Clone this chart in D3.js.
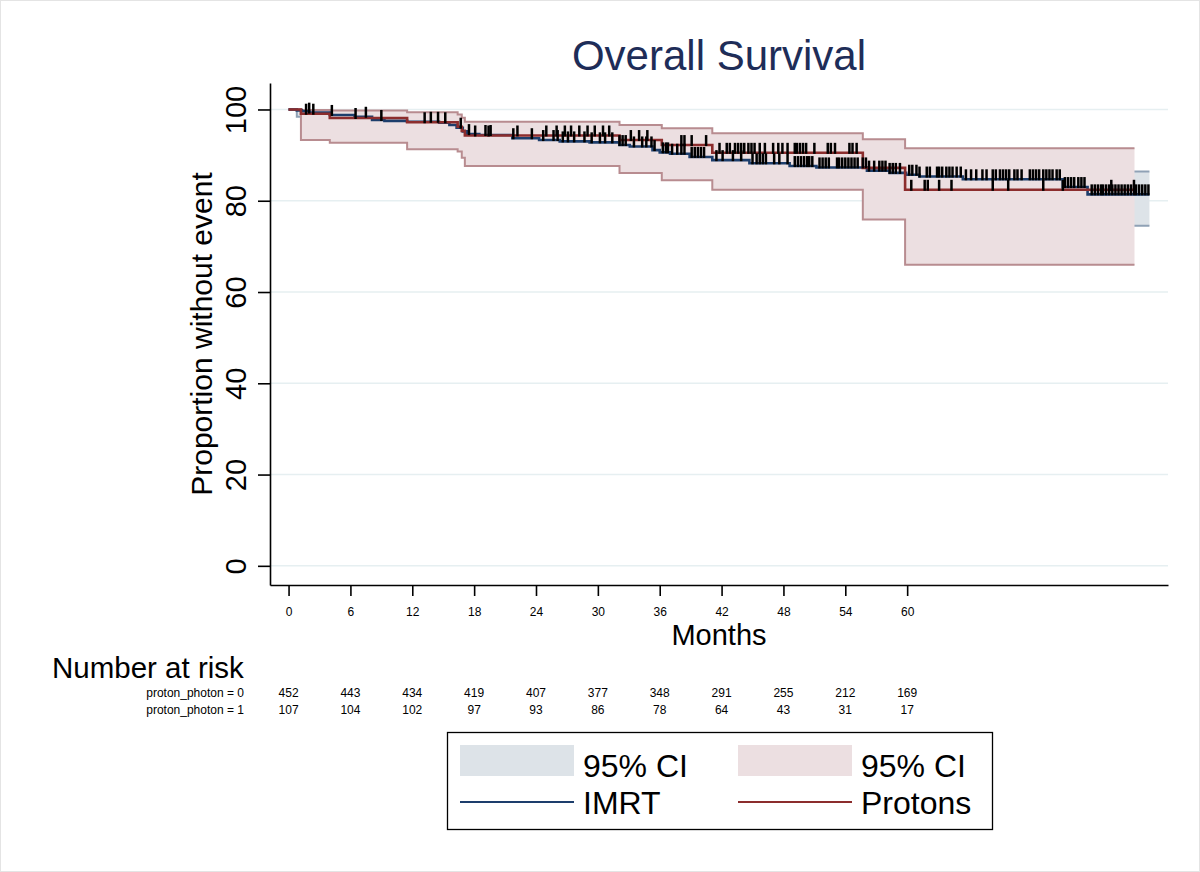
<!DOCTYPE html>
<html>
<head>
<meta charset="utf-8">
<script src="https://cdn.jsdelivr.net/npm/d3@7"></script>
<style>
  body { margin: 0; background: #fff; }
  svg { display: block; }
  text { font-family: "Liberation Sans", Arial, Helvetica, sans-serif; }
</style>
</head>
<body>
<svg id="chart"></svg>
<script>
// ---- data ----
const months = [0, 6, 12, 18, 24, 30, 36, 42, 48, 54, 60];
const yTicks = [0, 20, 40, 60, 80, 100];
const riskImrt = [452, 443, 434, 419, 407, 377, 348, 291, 255, 212, 169];
const riskProtons = [107, 104, 102, 97, 93, 86, 78, 64, 43, 31, 17];
const riskLabels = ["proton_photon = 0", "proton_photon = 1"];

// IMRT (proton_photon = 0): step times, survival %, 95% CI
const imrtTime = [0, 0.8, 1.3, 2.0, 4.0, 6.4, 8.1, 9.3, 11.5, 14.6, 15.6, 16.3, 16.9, 17.3, 18.5, 21.7, 24.3, 26.3, 29.2, 32.1, 33.1, 35.3, 36.0, 37.0, 38.9, 41.1, 44.7, 48.6, 51.2, 56.1, 58.3, 59.9, 61.2, 65.4, 75.1, 77.5];
const imrtSurv = [100, 99.8, 99.6, 99.3, 98.8, 98.4, 97.7, 97.5, 97.3, 97.1, 96.6, 96.0, 95.2, 94.6, 94.4, 93.7, 93.3, 93.0, 92.8, 92.2, 91.9, 91.1, 90.6, 90.3, 89.6, 88.9, 88.2, 87.6, 87.3, 86.6, 86.1, 85.7, 85.3, 84.7, 83.0, 81.4];
const imrtLo = [100, 98.4, 98.3, 97.9, 97.2, 96.6, 95.8, 95.5, 95.3, 95.0, 94.4, 93.7, 92.8, 92.1, 91.9, 91.1, 90.6, 90.3, 90.0, 89.3, 89.0, 88.0, 87.4, 87.1, 86.3, 85.4, 84.6, 83.9, 83.5, 82.6, 81.9, 81.4, 80.8, 80.0, 77.3, 74.5];
const imrtHi = [100, 100, 99.9, 99.8, 99.5, 99.3, 98.8, 98.7, 98.5, 98.4, 98.0, 97.5, 96.9, 96.4, 96.2, 95.6, 95.2, 95.0, 94.8, 94.3, 94.1, 93.4, 93.0, 92.8, 92.2, 91.6, 91.0, 90.5, 90.3, 89.8, 89.4, 89.1, 88.8, 88.4, 87.4, 86.4];
const imrtEnd = 83.5;
const imrtCensor = [2.0, 4.2, 7.5, 9.0, 13.8, 14.5, 16.7, 17.5, 19.1, 19.6, 21.8, 23.6, 24.7, 25.7, 26.1, 26.6, 27.1, 27.7, 28.7, 29.4, 30.2, 30.7, 31.4, 32.1, 32.4, 32.7, 33.5, 34.3, 34.7, 35.2, 35.5, 36.3, 36.6, 36.8, 37.2, 37.7, 38.1, 38.4, 39.1, 39.4, 39.7, 40.0, 40.3, 41.5, 42.1, 43.1, 43.9, 45.0, 45.4, 45.7, 46.0, 46.3, 47.1, 47.6, 48.4, 49.1, 49.4, 49.7, 50.0, 50.3, 50.5, 50.8, 51.5, 51.8, 52.1, 52.4, 53.2, 53.4, 53.7, 54.0, 54.3, 54.6, 54.9, 55.2, 55.7, 56.0, 56.3, 56.8, 57.3, 57.6, 57.9, 58.3, 58.6, 58.9, 59.3, 60.2, 60.5, 60.9, 61.2, 61.9, 62.2, 62.9, 63.1, 63.4, 63.8, 64.1, 64.4, 64.8, 65.2, 65.7, 66.2, 66.7, 67.3, 67.7, 68.3, 68.6, 69.0, 69.3, 69.6, 69.9, 70.4, 70.7, 71.1, 71.9, 72.2, 72.5, 72.8, 73.2, 73.5, 73.8, 74.1, 74.5, 74.8, 75.3, 75.6, 75.9, 76.2, 76.6, 76.9, 77.2, 77.9, 78.2, 78.5, 78.8, 79.0, 79.3, 79.6, 79.9, 80.2, 80.5, 80.8, 81.1, 81.4, 81.7, 82.0, 82.2, 82.5, 82.8, 83.1, 83.4];

// Protons (proton_photon = 1)
const protonTime = [0, 1.2, 4.0, 11.5, 16.4, 16.8, 17.1, 32.1, 36.2, 41.1, 55.7, 59.8];
const protonSurv = [100, 99.07, 98.13, 97.2, 96.2, 95.3, 94.3, 93.3, 92.2, 90.5, 87.2, 82.4];
const protonLo = [100, 93.3, 92.7, 91.3, 90.8, 89.4, 87.6, 86.1, 84.5, 82.4, 75.9, 66.0];
const protonHi = [100, 99.9, 99.8, 99.4, 98.9, 98.2, 97.3, 96.6, 95.9, 94.8, 93.5, 91.5];
const protonEnd = 82.05;
const protonCensor = [1.7, 2.4, 6.5, 13.2, 15.2, 18.1, 19.4, 22.2, 25.0, 26.0, 26.8, 27.4, 28.2, 29.0, 29.7, 30.5, 31.1, 33.2, 34.0, 34.8, 38.1, 38.4, 39.1, 40.5, 41.8, 42.5, 42.8, 43.3, 43.6, 43.9, 44.2, 44.6, 44.9, 45.2, 45.7, 46.2, 47.0, 47.5, 47.9, 48.4, 49.1, 49.3, 49.6, 49.9, 50.2, 51.0, 52.3, 52.6, 53.0, 54.4, 54.7, 55.1, 60.4, 61.7, 62.0, 63.1, 64.3, 68.3, 69.8, 73.2, 75.1, 79.8, 82.0];

// ---- setup ----
const width = 1200;
const height = 872;
const svg = d3.select("#chart").attr("width", width).attr("height", height);

const x = d3.scaleLinear().domain([-1.8, 85.3]).range([270, 1168]);
const y = d3.scaleLinear().domain([-4.2, 105.8]).range([585, 83]);

const colors = {
    imrt: "#1d3e6c",
    imrtCiFill: "#dde3e8",
    imrtCiLine: "#8fa1b5",
    proton: "#8c2d2d",
    protonCiFill: "#ecdfe1",
    protonCiLine: "#b88c90",
    title: "#1e2d58",
    grid: "#e6eff1"
};

// faint outer frame
svg.append("rect")
    .attr("x", 0.5).attr("y", 0.5)
    .attr("width", width - 1).attr("height", height - 1)
    .attr("fill", "white").attr("stroke", "#e4e4e4");

// gridlines
svg.append("g")
    .selectAll("line")
    .data(yTicks)
    .join("line")
    .attr("x1", 270).attr("x2", 1168)
    .attr("y1", d => y(d)).attr("y2", d => y(d))
    .attr("stroke", colors.grid)
    .attr("stroke-width", 1.5);

// build step rows (with an end row so the last step runs to last follow-up)
function rows(times, surv, lo, hi, end) {
    const r = times.map((t, i) => ({ t: t, s: surv[i], lo: lo[i], hi: hi[i] }));
    const last = r[r.length - 1];
    r.push({ t: end, s: last.s, lo: last.lo, hi: last.hi });
    return r;
}
const imrtRows = rows(imrtTime, imrtSurv, imrtLo, imrtHi, imrtEnd);
const protonRows = rows(protonTime, protonSurv, protonLo, protonHi, protonEnd);

const area = d3.area()
    .curve(d3.curveStepAfter)
    .x(d => x(d.t))
    .y0(d => y(d.lo))
    .y1(d => y(d.hi));

const line = key => d3.line()
    .curve(d3.curveStepAfter)
    .x(d => x(d.t))
    .y(d => y(d[key]));

// confidence bands
function drawBand(data, fill, stroke) {
    svg.append("path").datum(data)
        .attr("d", area)
        .attr("fill", fill);
    ["lo", "hi"].forEach(k => {
        svg.append("path").datum(data)
            .attr("d", line(k))
            .attr("fill", "none")
            .attr("stroke", stroke)
            .attr("stroke-width", 2);
    });
}
drawBand(imrtRows, colors.imrtCiFill, colors.imrtCiLine);
drawBand(protonRows, colors.protonCiFill, colors.protonCiLine);

// survival curves
svg.append("path").datum(imrtRows)
    .attr("d", line("s"))
    .attr("fill", "none")
    .attr("stroke", colors.imrt)
    .attr("stroke-width", 2.6);

svg.append("path").datum(protonRows)
    .attr("d", line("s"))
    .attr("fill", "none")
    .attr("stroke", colors.proton)
    .attr("stroke-width", 2.6);

// censoring marks
function survAt(times, surv, t) {
    const i = d3.bisectRight(times, t) - 1;
    return surv[Math.max(0, i)];
}
function drawCensor(list, times, surv) {
    svg.append("g")
        .selectAll("line")
        .data(list)
        .join("line")
        .attr("x1", d => x(d)).attr("x2", d => x(d))
        .attr("y1", d => y(survAt(times, surv, d)) + 1)
        .attr("y2", d => y(survAt(times, surv, d)) - 10)
        .attr("stroke", "#000")
        .attr("stroke-width", 2.5);
}
drawCensor(imrtCensor, imrtTime, imrtSurv);
drawCensor(protonCensor, protonTime, protonSurv);

// axes
const yAxis = svg.append("g")
    .attr("transform", "translate(270,0)")
    .call(d3.axisLeft(y).tickValues(yTicks).tickSize(12).tickSizeOuter(0));
yAxis.select(".domain").attr("stroke-width", 1.6);
yAxis.selectAll(".tick line").attr("stroke-width", 1.6);
yAxis.selectAll(".tick text")
    .attr("x", 0).attr("y", -24).attr("dy", 0)
    .attr("transform", "rotate(-90)")
    .attr("text-anchor", "middle")
    .attr("font-size", 29)
    .attr("font-family", "Liberation Sans, Arial, sans-serif")
    .attr("fill", "#000");

const xAxis = svg.append("g")
    .attr("transform", "translate(0,585)")
    .call(d3.axisBottom(x).tickValues(months).tickSize(11).tickPadding(11).tickSizeOuter(0));
xAxis.select(".domain").attr("stroke-width", 1.6);
xAxis.selectAll(".tick line").attr("stroke-width", 1.6);
xAxis.selectAll(".tick text")
    .attr("font-size", 12)
    .attr("font-family", "Liberation Sans, Arial, sans-serif")
    .attr("fill", "#000");

// titles
svg.append("text")
    .attr("x", 719).attr("y", 70)
    .attr("text-anchor", "middle")
    .attr("font-size", 42)
    .attr("fill", colors.title)
    .text("Overall Survival");

svg.append("text")
    .attr("transform", "translate(212,334) rotate(-90)")
    .attr("text-anchor", "middle")
    .attr("font-size", 30)
    .text("Proportion without event");

svg.append("text")
    .attr("x", 719).attr("y", 645)
    .attr("text-anchor", "middle")
    .attr("font-size", 29)
    .text("Months");

// number at risk table
svg.append("text")
    .attr("x", 52).attr("y", 678)
    .attr("font-size", 29.5)
    .text("Number at risk");

[riskImrt, riskProtons].forEach((vals, r) => {
    const yy = 697 + r * 17;
    svg.append("text")
        .attr("x", 244).attr("y", yy)
        .attr("text-anchor", "end")
        .attr("font-size", 12)
        .text(riskLabels[r]);
    svg.append("g")
        .selectAll("text")
        .data(vals)
        .join("text")
        .attr("x", (d, i) => x(months[i]))
        .attr("y", yy)
        .attr("text-anchor", "middle")
        .attr("font-size", 12)
        .text(d => d);
});

// legend
const legend = svg.append("g");
legend.append("rect")
    .attr("x", 447.5).attr("y", 732.5)
    .attr("width", 545).attr("height", 97)
    .attr("fill", "white")
    .attr("stroke", "#000")
    .attr("stroke-width", 1.3);

const legendItems = [
    { col: 0, row: 0, type: "area", color: colors.imrtCiFill, label: "95% CI" },
    { col: 1, row: 0, type: "area", color: colors.protonCiFill, label: "95% CI" },
    { col: 0, row: 1, type: "line", color: colors.imrt, label: "IMRT" },
    { col: 1, row: 1, type: "line", color: colors.proton, label: "Protons" }
];
legendItems.forEach(d => {
    const x0 = d.col === 0 ? 460 : 738;
    if (d.type === "area") {
        legend.append("rect")
            .attr("x", x0).attr("y", 745)
            .attr("width", 114).attr("height", 31)
            .attr("fill", d.color);
    } else {
        legend.append("line")
            .attr("x1", x0).attr("x2", x0 + 114)
            .attr("y1", 802).attr("y2", 802)
            .attr("stroke", d.color)
            .attr("stroke-width", 2);
    }
    legend.append("text")
        .attr("x", x0 + 123)
        .attr("y", d.row === 0 ? 777 : 814)
        .attr("font-size", 32)
        .text(d.label);
});
</script>
</body>
</html>
